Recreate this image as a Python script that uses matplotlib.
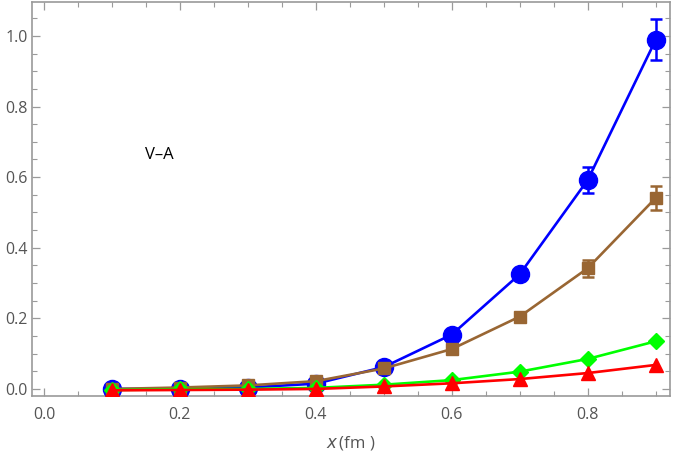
import matplotlib.pyplot as plt
from matplotlib.ticker import MultipleLocator

# data
x = [0.1, 0.2, 0.3, 0.4, 0.5, 0.6, 0.7, 0.8, 0.9]
blue_y = [0.0, 0.0, 0.004, 0.015, 0.062, 0.154, 0.325, 0.592, 0.989]
blue_err = [0.0, 0.0, 0.0, 0.0, 0.002, 0.005, 0.012, 0.037, 0.058]
brown_y = [0.0, 0.004, 0.01, 0.022, 0.058, 0.113, 0.205, 0.342, 0.541]
brown_err = [0.0, 0.0, 0.0, 0.0, 0.002, 0.004, 0.008, 0.024, 0.035]
green_y = [-0.003, -0.001, 0.0, 0.003, 0.012, 0.025, 0.049, 0.085, 0.135]
red_y = [-0.004, -0.003, -0.002, 0.0, 0.007, 0.016, 0.028, 0.045, 0.068]

label_text = "V\u2013A"

plt.rcParams['font.family'] = ['Open Sans', 'DejaVu Sans']

fig = plt.figure(figsize=(6.75, 4.65), dpi=100)
ax = fig.add_axes([32 / 675, 69 / 465, 638 / 675, 394 / 465])

lw = 1.9
ax.errorbar(x, blue_y, yerr=blue_err, color='#0000FF', marker='o', ms=13,
            lw=lw, elinewidth=1.8, capsize=4.5, capthick=1.8, zorder=3)
ax.errorbar(x, brown_y, yerr=brown_err, color='#996633', marker='s', ms=8.5,
            lw=lw, elinewidth=1.8, capsize=4.5, capthick=1.8, zorder=4)
ax.plot(x, green_y, color='#00FF00', marker='D', ms=8.5, lw=lw, zorder=5)
ax.plot(x, red_y, color='#FF0000', marker='^', ms=10.5, lw=lw, zorder=6)

ax.text(0.17, 0.663, label_text, fontsize=12, ha='center', va='center', color='black')

ax.set_xlim(-0.0176, 0.921)
ax.set_ylim(-0.02, 1.096)
ax.xaxis.set_major_locator(MultipleLocator(0.2))
ax.xaxis.set_minor_locator(MultipleLocator(0.05))
ax.yaxis.set_major_locator(MultipleLocator(0.2))
ax.yaxis.set_minor_locator(MultipleLocator(0.05))

frame = '#9a9a9a'
for s in ax.spines.values():
    s.set_color(frame)
    s.set_linewidth(1.2)
ax.tick_params(which='both', direction='in', color=frame, top=True, right=True,
               labelcolor='#555555', labelsize=11.5)
ax.tick_params(which='major', length=6, width=0.9)
ax.tick_params(which='minor', length=3.5, width=0.8)
ax.tick_params(axis='x', pad=8)
ax.tick_params(axis='y', pad=3)
ax.yaxis.set_major_formatter(plt.FuncFormatter(lambda v, p: f"{v:.1f}"))
ax.xaxis.set_major_formatter(plt.FuncFormatter(lambda v, p: f"{v:.1f}"))

ax.set_xlabel("$x\\,$(fm )", fontsize=12, color='#555555', labelpad=8)

fig.savefig("out.png", dpi=100)
